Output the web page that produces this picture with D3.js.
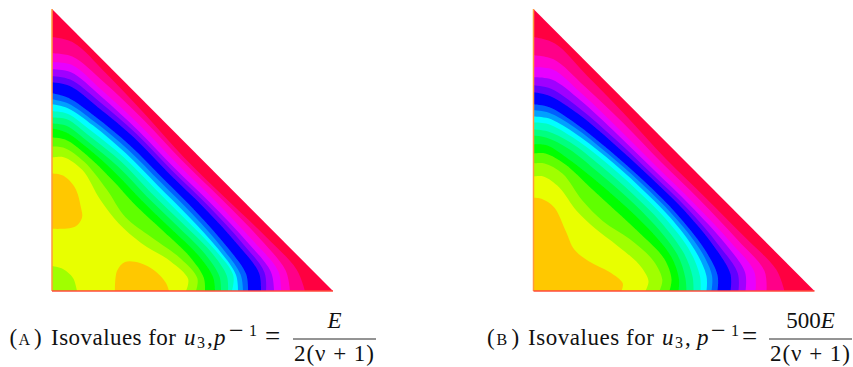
<!DOCTYPE html>
<html>
<head>
<meta charset="utf-8">
<style>
  html, body { margin: 0; background: #fff; }
  text { font-family: "Liberation Serif", serif; fill: #111; }
</style>
<script src="https://cdn.jsdelivr.net/npm/d3@7"></script>
</head>
<body>
<svg id="chart" width="853" height="367"></svg>
<script>
// band colours, from the hypotenuse inwards
const bandColors = ["#ff0040", "#ff0088", "#ff00d0", "#e800ff", "#a000ff", "#6000ff", "#0000ff",
  "#0060ff", "#00a0ff", "#00ffff", "#00ffc0", "#00ff80", "#00ff40", "#00ff00", "#60ff00", "#a0ff00",
  "#e8ff00", "#ffc800"]

// share of the distance along the bottom leg, one value per station of an isoline
const stations = [0, 0.08, 0.2, 0.35, 0.5, 0.65, 0.8, 0.92, 1]

// isolines: u + v at each station, mesh legs are 281 long
const isolinesA = [
  [253, 269, 271, 269, 265, 266, 268, 266, 253],
  [237, 254, 260, 262, 260, 261, 260, 254, 238],
  [228, 245, 250, 253, 252, 253, 251, 246, 229],
  [221, 237, 243, 246, 245, 246, 244, 238, 222],
  [214, 229, 236, 241, 240, 241, 238, 231, 214],
  [208, 222, 229, 235, 234, 235, 232, 225, 209],
  [197, 209, 217, 223, 223, 223, 219, 211, 196],
  [191, 203, 211, 217, 217, 217, 213, 205, 191],
  [186, 198, 206, 211, 211, 211, 208, 200, 186],
  [179, 192, 199, 205, 205, 205, 204, 197, 180],
  [173, 186, 192, 198, 197, 198, 198, 190, 176],
  [167, 179, 185, 190, 189, 190, 190, 182, 169],
  [162, 172, 178, 181, 180, 181, 182, 175, 163],
  [153, 164, 170, 171, 169, 171, 172, 165, 153],
  [144, 155, 161, 156, 147, 153, 161, 158, 144],
  [133, 145, 151, 139, 134, 137, 148, 148, 134]
]

const isolinesB = [
  [253, 268, 268, 267, 264, 265, 265, 264, 251],
  [235, 251, 255, 257, 256, 257, 255, 251, 233],
  [223, 240, 245, 247, 247, 248, 246, 240, 222],
  [213, 229, 237, 240, 241, 242, 239, 230, 212],
  [205, 219, 228, 233, 235, 236, 231, 222, 205],
  [198, 211, 221, 227, 230, 231, 225, 214, 197],
  [186, 199, 209, 216, 220, 220, 213, 200, 184],
  [180, 193, 204, 211, 215, 215, 208, 194, 178],
  [174, 187, 198, 206, 210, 210, 202, 188, 173],
  [168, 181, 192, 200, 204, 204, 196, 181, 167],
  [161, 173, 185, 192, 196, 196, 188, 173, 160],
  [155, 166, 177, 183, 187, 187, 180, 165, 153],
  [146, 158, 166, 172, 176, 177, 172, 158, 145],
  [137, 149, 158, 160, 162, 164, 163, 150, 136],
  [127, 138, 146, 139, 139, 148, 150, 140, 126],
  [114, 124, 129, 123, 124, 129, 132, 125, 112],
  [93, 100, 104, 92, 82, 85, 95, 97, 88]
]

// closed islands on panel A, [u, v] with the colour they take
const islandLeft = [[0, 117], [11, 115], [23, 103], [29, 83], [30, 73], [23, 64], [0, 62]]
const islandBottom = [[63, 0], [65, 20], [73, 29], [88, 28], [103, 20], [114, 8], [117, 0]]
const islandCorner = [[0, 25], [11, 22], [21, 13], [25, 0]]

const captionA = [
  { t: "(", x: 9.5, size: 23 },
  { t: "A", x: 18.5, size: 16 },
  { t: ")", x: 34, size: 23 },
  { t: "Isovalues for", x: 51, size: 23, len: 125 },
  { t: "u", x: 184, size: 23, italic: true },
  { t: "3", x: 197, dy: 3, size: 16 },
  { t: ",", x: 207, size: 23 },
  { t: "p", x: 214, size: 23, italic: true },
  { t: "\u2212", x: 229, dy: -6, size: 26 },
  { t: "1", x: 249, dy: -9, size: 16 },
  { t: "=", x: 265, size: 27 }
]
const fracA = { num: "E", den: "2(\u03bd + 1)", x1: 293, x2: 376 }

const captionB = [
  { t: "(", x: 487, size: 23 },
  { t: "B", x: 496.5, size: 16 },
  { t: ")", x: 511.5, size: 23 },
  { t: "Isovalues for", x: 528, size: 23, len: 126 },
  { t: "u", x: 662, size: 23, italic: true },
  { t: "3", x: 675, dy: 3, size: 16 },
  { t: ",", x: 685, size: 23 },
  { t: "p", x: 697, size: 23, italic: true },
  { t: "\u2212", x: 711, dy: -6, size: 26 },
  { t: "1", x: 731, dy: -9, size: 16 },
  { t: "=", x: 742, size: 27 }
]
const fracB = { num: "500E", den: "2(\u03bd + 1)", x1: 769, x2: 852 }

const svg = d3.select("#chart")

// the source is a scaled bitmap, so band edges are a little soft
svg.append("filter").attr("id", "soft")
  .append("feGaussianBlur").attr("stdDeviation", 0.4)

// **************************
// One triangle of painted bands
// **************************
function drawPanel(id, left, isolines, islands) {
  const xScale = d3.scaleLinear().domain([0, 281]).range([left, left + 281])
  const yScale = d3.scaleLinear().domain([0, 281]).range([291, 9])
  const corner = [xScale(0), yScale(0)]

  const outline = `M${corner}L${xScale(281)},${yScale(0)}L${xScale(0)},${yScale(281)}Z`
  svg.append("clipPath").attr("id", id).append("path").attr("d", outline)

  const g = svg.append("g").attr("clip-path", `url(#${id})`)
    .append("g").attr("filter", "url(#soft)")
  g.append("path").attr("d", outline).attr("fill", bandColors[0])
    .attr("stroke", bandColors[0]).attr("stroke-width", 3)

  const lineGenerator = d3.line()
    .x(d => xScale(d[0]))
    .y(d => yScale(d[1]))
    .curve(d3.curveCatmullRom)

  isolines.forEach((sums, i) => {
    const points = sums.map((s, j) => [s * stations[j], s * (1 - stations[j])])
    g.append("path")
      .attr("d", lineGenerator(points) + `L${corner}Z`)
      .attr("fill", bandColors[i + 1])
  })

  islands.forEach(island => {
    g.append("path")
      .attr("d", lineGenerator(island.points) + (island.toCorner ? `L${corner}Z` : "Z"))
      .attr("fill", island.color)
  })

  // edge lines of the plot
  svg.append("line")
    .attr("x1", xScale(0)).attr("x2", xScale(0))
    .attr("y1", yScale(281)).attr("y2", yScale(0))
    .attr("stroke", "#ff9a3c").attr("stroke-width", 1.5)
  svg.append("line")
    .attr("x1", xScale(0)).attr("x2", xScale(281))
    .attr("y1", yScale(0)).attr("y2", yScale(0))
    .attr("stroke", "#ff4a3c").attr("stroke-width", 1.5)
}

// **************************
// Caption under a panel
// **************************
function drawCaption(parts, frac) {
  const baseline = 345
  svg.append("g").selectAll("text")
    .data(parts)
    .join("text")
    .attr("x", d => d.x)
    .attr("y", d => baseline + (d.dy || 0))
    .attr("font-size", d => d.size)
    .attr("font-style", d => d.italic ? "italic" : null)
    .attr("textLength", d => d.len || null)
    .attr("lengthAdjust", "spacing")
    .text(d => d.t)

  const mid = (frac.x1 + frac.x2) / 2
  svg.append("line")
    .attr("x1", frac.x1).attr("x2", frac.x2)
    .attr("y1", 339).attr("y2", 339)
    .attr("stroke", "#111").attr("stroke-width", 0.9)
  svg.append("text").attr("x", mid).attr("y", 328)
    .attr("text-anchor", "middle").attr("font-size", 23)
    .selectAll("tspan")
    .data([frac.num.slice(0, -1), frac.num.slice(-1)])
    .join("tspan")
    .attr("font-style", (d, i) => i ? "italic" : null)
    .text(d => d)
  svg.append("text").attr("x", frac.x1 + 1).attr("y", 361)
    .attr("font-size", 23)
    .attr("textLength", frac.x2 - frac.x1 - 3).attr("lengthAdjust", "spacing")
    .text(frac.den)
}

drawPanel("clip-a", 52, isolinesA, [
  { points: islandLeft, color: bandColors[17] },
  { points: islandBottom, color: bandColors[17] },
  { points: islandCorner, color: bandColors[15], toCorner: true }
])
drawPanel("clip-b", 533.5, isolinesB, [])
drawCaption(captionA, fracA)
drawCaption(captionB, fracB)
</script>
</body>
</html>
